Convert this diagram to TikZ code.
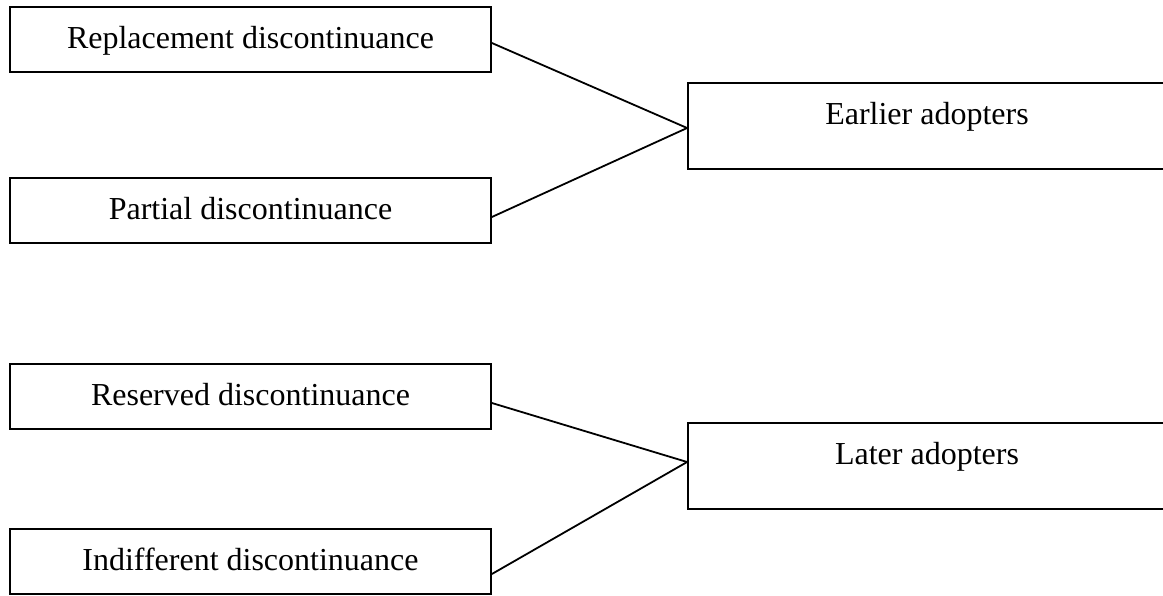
\documentclass[tikz,border=0pt]{standalone}
\usepackage{fontspec}
\setmainfont{Liberation Serif}
\usepackage{tikz}

\tikzset{
  boiteG/.style={draw, line width=0.9pt, minimum width=240.5pt, inner xsep=0pt, inner ysep=0pt,
    text height=20.5pt, text depth=12pt, font=\fontsize{16}{20}\selectfont},
  boiteD/.style={draw, line width=0.9pt, minimum width=239pt, inner xsep=0pt, inner ysep=0pt,
    text height=20.5pt, text depth=22.5pt, font=\fontsize{16}{20}\selectfont},
  lien/.style={line width=0.9pt}
}

\begin{document}
\begin{tikzpicture}[x=0.5pt,y=-0.5pt]

\useasboundingbox (0,0) rectangle (1163,595);

% Abandons (gauche)
\node[boiteG] (rempl) at (250.5,39.5) {Replacement discontinuance};
\node[boiteG] (part) at (250.5,210.5) {Partial discontinuance};
\node[boiteG] (reserv) at (250.5,396.5) {Reserved discontinuance};
\node[boiteG] (indiff) at (250.5,561.5) {Indifferent discontinuance};

% Adoptants (droite)
\node[boiteD] (tot) at (927,126) {Earlier adopters};
\node[boiteD] (tard) at (927,466) {Later adopters};

% Liens
\draw[lien] ([yshift=-1.75pt]rempl.east) -- ([yshift=-1pt]tot.west);
\draw[lien] ([yshift=-3.25pt]part.east) -- ([yshift=-1pt]tot.west);
\draw[lien] ([yshift=-3.25pt]reserv.east) -- ([yshift=2pt]tard.west);
\draw[lien] ([yshift=-6.25pt]indiff.east) -- ([yshift=2pt]tard.west);

\end{tikzpicture}
\end{document}
